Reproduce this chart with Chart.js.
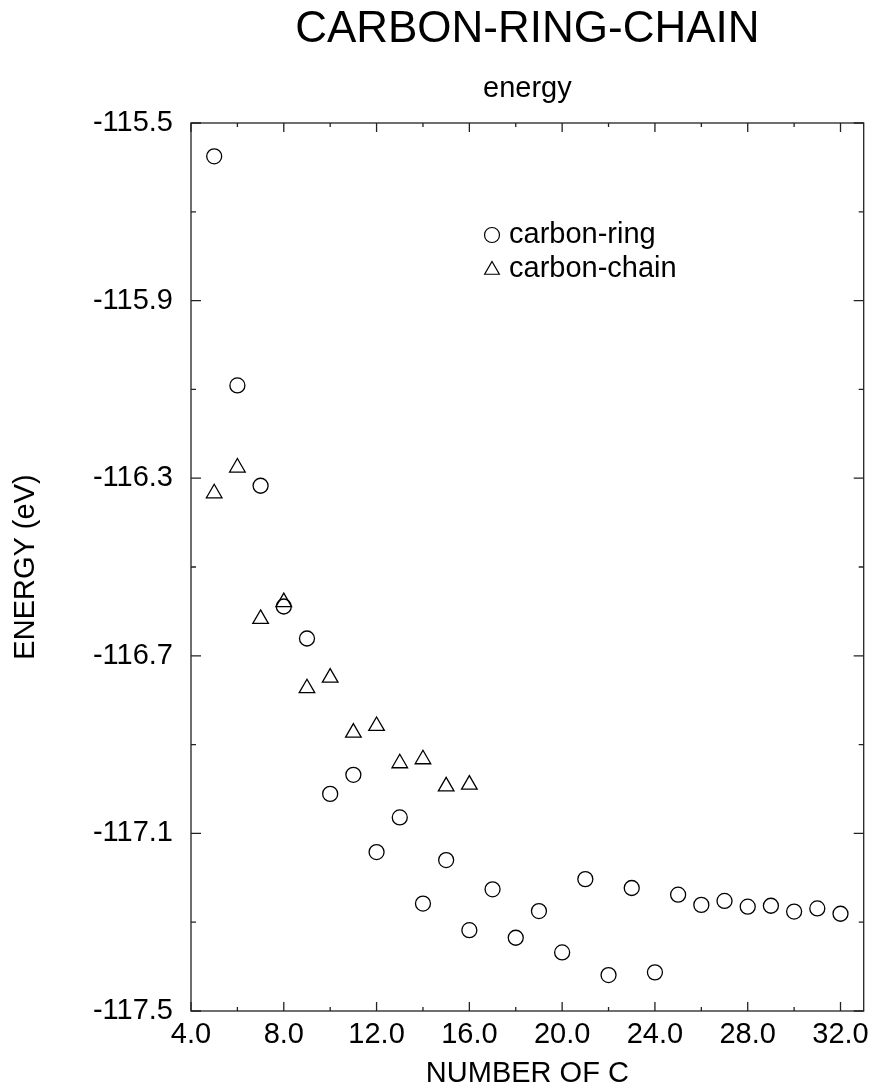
<!DOCTYPE html>
<html>
<head>
<meta charset="utf-8">
<title>CARBON-RING-CHAIN</title>
<script src="https://cdn.jsdelivr.net/npm/chart.js@4.4.1/dist/chart.umd.min.js"></script>
<style>
  html, body { margin: 0; padding: 0; background: #fff; }
  #wrap { width: 874px; height: 1088px; }
</style>
</head>
<body>
<div id="wrap"><canvas id="energyChart" width="874" height="1088"></canvas></div>
<script>
// number of carbon atoms
const ringN = [5, 6, 7, 8, 9, 10, 11, 12, 13, 14, 15, 16, 17, 18, 19, 20, 21, 22, 23, 24, 25, 26, 27, 28, 29, 30, 31, 32];
const ringEnergy = [-115.575, -116.091, -116.317, -116.589, -116.661, -117.011, -116.968, -117.142, -117.064, -117.258,
  -117.160, -117.318, -117.226, -117.335, -117.275, -117.368, -117.203, -117.419, -117.223, -117.413,
  -117.238, -117.261, -117.252, -117.265, -117.263, -117.276, -117.269, -117.281];

const chainN = [5, 6, 7, 8, 9, 10, 11, 12, 13, 14, 15, 16];
const chainEnergy = [-116.334, -116.276, -116.617, -116.579, -116.773, -116.749, -116.873, -116.858, -116.942, -116.933, -116.994, -116.990];

const xMajorTicks = [4, 8, 12, 16, 20, 24, 28, 32];
const xMinorTicks = [6, 10, 14, 18, 22, 26, 30];
const yMajorTicks = [-115.5, -115.9, -116.3, -116.7, -117.1, -117.5];
const yMinorTicks = [-115.7, -116.1, -116.5, -116.9, -117.3];

const FONT = '"Liberation Sans", Arial, Helvetica, sans-serif';
Chart.defaults.font.family = FONT;
Chart.defaults.color = '#000';

function toPoints(xs, ys) {
  return xs.map((x, i) => ({ x: x, y: ys[i] }));
}

function setTicks(major, minor) {
  return scale => {
    scale.ticks = major.concat(minor).sort((a, b) => a - b).map(v => ({ value: v }));
  };
}

// closed frame with inward tick marks on all four sides
const frameTicks = {
  id: 'frameTicks',
  beforeDatasetsDraw(chart) {
    const { ctx, chartArea: a, scales: { x, y } } = chart;
    ctx.save();
    ctx.strokeStyle = '#222';
    ctx.lineWidth = 1.3;
    ctx.strokeRect(a.left, a.top, a.right - a.left, a.bottom - a.top);
    ctx.beginPath();
    x.ticks.forEach(t => {
      const px = x.getPixelForValue(t.value);
      const len = xMajorTicks.includes(t.value) ? 9 : 4;
      ctx.moveTo(px, a.bottom); ctx.lineTo(px, a.bottom - len);
      ctx.moveTo(px, a.top); ctx.lineTo(px, a.top + len);
    });
    y.ticks.forEach(t => {
      const py = y.getPixelForValue(t.value);
      const len = yMajorTicks.includes(t.value) ? 10 : 5;
      ctx.moveTo(a.left, py); ctx.lineTo(a.left + len, py);
      ctx.moveTo(a.right, py); ctx.lineTo(a.right - len, py);
    });
    ctx.stroke();
    ctx.restore();
  }
};

// title and subtitle centred over the plot area
const headings = {
  id: 'headings',
  afterDraw(chart) {
    const { ctx, chartArea: a } = chart;
    const cx = (a.left + a.right) / 2;
    ctx.save();
    ctx.fillStyle = '#000';
    ctx.textAlign = 'center';
    ctx.textBaseline = 'alphabetic';
    ctx.font = '44px ' + FONT;
    ctx.fillText('CARBON-RING-CHAIN', cx, 41.5);
    ctx.font = '29px ' + FONT;
    ctx.fillText('energy', cx, 97);
    ctx.restore();
  }
};

// legend inside the plot area
const innerLegend = {
  id: 'innerLegend',
  afterDraw(chart) {
    const { ctx } = chart;
    const rows = [
      { y: 235, sy: 235, r: 7.5 },
      { y: 269, sy: 270, r: 8.5 }
    ];
    ctx.save();
    chart.data.datasets.forEach((ds, i) => {
      const row = rows[i];
      ctx.strokeStyle = '#000';
      ctx.fillStyle = 'rgba(0,0,0,0)';
      ctx.lineWidth = 1.2;
      if (Chart.helpers && Chart.helpers.drawPoint) {
        Chart.helpers.drawPoint(ctx, { pointStyle: ds.pointStyle, radius: row.r, borderWidth: 1.2, rotation: 0 }, 492, row.sy);
      } else {
        ctx.beginPath();
        if (ds.pointStyle === 'triangle') {
          ctx.moveTo(492, row.sy - row.r);
          ctx.lineTo(492 + row.r * 0.866, row.sy + row.r / 2);
          ctx.lineTo(492 - row.r * 0.866, row.sy + row.r / 2);
          ctx.closePath();
        } else {
          ctx.arc(492, row.sy, row.r, 0, Math.PI * 2);
        }
        ctx.stroke();
      }
      ctx.fillStyle = '#000';
      ctx.font = '29px ' + FONT;
      ctx.textAlign = 'left';
      ctx.textBaseline = 'middle';
      ctx.fillText(ds.label, 509, row.y);
    });
    ctx.restore();
  }
};

new Chart(document.getElementById('energyChart'), {
  type: 'scatter',
  data: {
    datasets: [
      {
        label: 'carbon-ring',
        data: toPoints(ringN, ringEnergy),
        pointStyle: 'circle',
        pointRadius: 7.5,
        pointBorderWidth: 1.3,
        borderColor: '#000',
        backgroundColor: 'rgba(0,0,0,0)'
      },
      {
        label: 'carbon-chain',
        data: toPoints(chainN, chainEnergy),
        pointStyle: 'triangle',
        pointRadius: 9,
        pointBorderWidth: 1.3,
        borderColor: '#000',
        backgroundColor: 'rgba(0,0,0,0)'
      }
    ]
  },
  options: {
    responsive: false,
    animation: false,
    devicePixelRatio: 1,
    layout: { padding: { top: 123, right: 9, bottom: 0, left: 0 } },
    plugins: {
      legend: { display: false },
      title: { display: false },
      tooltip: { enabled: false }
    },
    scales: {
      x: {
        type: 'linear',
        min: 4,
        max: 33,
        afterBuildTicks: setTicks(xMajorTicks, xMinorTicks),
        afterFit: s => { s.height = 77; s.paddingLeft = 0; s.paddingRight = 0; },
        grid: { display: false, drawTicks: false },
        border: { display: false },
        ticks: {
          autoSkip: false,
          maxRotation: 0,
          padding: 9,
          font: { size: 29, lineHeight: 1 },
          callback: v => xMajorTicks.includes(v) ? v.toFixed(1) : ''
        },
        title: { display: true, text: 'NUMBER OF C', font: { size: 29, lineHeight: 1 }, padding: 0 }
      },
      y: {
        type: 'linear',
        min: -117.5,
        max: -115.5,
        afterBuildTicks: setTicks(yMajorTicks, yMinorTicks),
        afterFit: s => { s.width = 191; },
        grid: { display: false, drawTicks: false },
        border: { display: false },
        ticks: {
          autoSkip: false,
          padding: 18,
          font: { size: 29, lineHeight: 1 },
          callback: v => yMajorTicks.includes(v) ? v.toFixed(1) : ''
        },
        title: { display: true, text: 'ENERGY (eV)', font: { size: 29, lineHeight: 1 }, padding: { top: 11, bottom: 0 } }
      }
    }
  },
  plugins: [frameTicks, headings, innerLegend]
});
</script>
</body>
</html>
